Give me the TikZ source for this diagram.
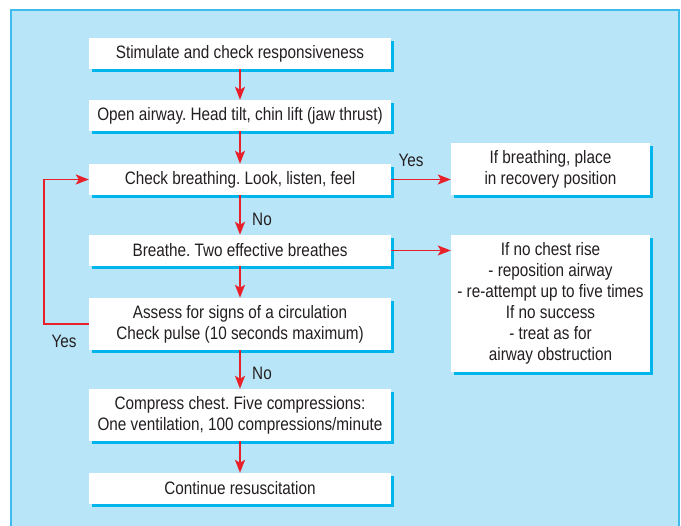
\documentclass[tikz,border=0pt]{standalone}
\usepackage{fontspec}
\setmainfont{Liberation Sans}[FakeStretch=0.85]
\frenchspacing
\usetikzlibrary{shadows,arrows.meta}
\definecolor{bgblue}{HTML}{B9E5F8}
\definecolor{frameblue}{HTML}{3DBCEB}
\definecolor{shadowcyan}{HTML}{00B4EC}
\definecolor{arrowred}{HTML}{E8202A}
\definecolor{txt}{HTML}{231F20}
\begin{document}
\begin{tikzpicture}[x=1pt,y=-1pt,
  every node/.style={font=\fontsize{18}{21}\selectfont, text=txt},
  box/.style={fill=white, align=center, inner sep=0pt,
    drop shadow={shadow xshift=3pt, shadow yshift=-3pt, fill=shadowcyan, opacity=1}},
  mainbox/.style={box, minimum width=302pt},
  sidebox/.style={box, minimum width=199pt},
  flow/.style={draw=arrowred, line width=1.8pt, -{Stealth[length=13pt,width=10pt,inset=3pt]}},
  lbl/.style={inner sep=0pt}]
\useasboundingbox (0,0) rectangle (681,526);
\filldraw[fill=bgblue, draw=frameblue, line width=1.2pt] (11,10) rectangle (679,530);
\node[mainbox, minimum height=31pt] (s1) at (240,53.5) {Stimulate and check responsiveness};
\node[mainbox, minimum height=31pt] (s2) at (240,115.5) {Open airway. Head tilt, chin lift (jaw thrust)};
\node[mainbox, minimum height=31pt] (s3) at (240,179.5) {Check breathing. Look, listen, feel};
\node[mainbox, minimum height=31pt] (s4) at (240,250.5) {Breathe. Two effective breathes};
\node[mainbox, minimum height=52pt] (s5) at (240,324) {Assess for signs of a circulation\\Check pulse (10 seconds maximum)};
\node[mainbox, minimum height=52pt] (s6) at (240,415) {Compress chest. Five compressions:\\One ventilation, 100 compressions/minute};
\node[mainbox, minimum height=31pt] (s7) at (240,488.5) {Continue resuscitation};
\node[sidebox, minimum height=52pt] (r1) at (550.5,169) {If breathing, place\\in recovery position};
\node[sidebox, minimum height=137pt] (r2) at (550.5,303.5) {If no chest rise\\- reposition airway\\- re-attempt up to five times\\If no success\\- treat as for\\airway obstruction};
\draw[flow] (s1) -- (s2);
\draw[flow] (s2) -- (s3);
\draw[flow] (s3) -- (s4);
\draw[flow] (s4) -- (s5);
\draw[flow] (s5) -- (s6);
\draw[flow] (s6) -- (s7);
\draw[flow] (s3.east) -- (r1.west |- s3.east);
\draw[flow] (s4.east) -- (r2.west |- s4.east);
\coordinate (loop) at (44,0);
\draw[flow] (s5.west) -- (loop |- s5.west) -- (loop |- s3.west) -- (s3.west);
\node[lbl] (no1) at (262,219) {No};
\node[lbl] (no2) at (262,373) {No};
\node[lbl] (yes1) at (411,160) {Yes};
\node[lbl] (yes2) at (64,341) {Yes};
\end{tikzpicture}
\end{document}
